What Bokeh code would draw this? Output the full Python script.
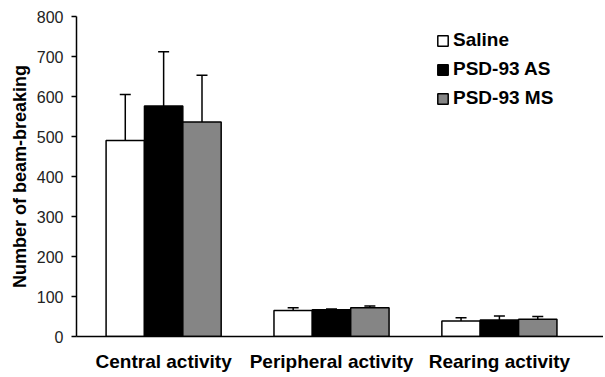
from bokeh.plotting import figure
from bokeh.models import (ColumnDataSource, Whisker, TeeHead, FixedTicker, Range1d,
                          Legend, LegendItem)
from bokeh.embed import file_html
from bokeh.resources import INLINE

categories = ["Central activity", "Peripheral activity", "Rearing activity"]
groups = ["Saline", "PSD-93 AS", "PSD-93 MS"]
saline = [490, 65, 39]
saline_err = [115, 7, 8]
psd_as = [576, 67, 41]
psd_as_err = [136, 2, 10]
psd_ms = [536, 72, 43]
psd_ms_err = [117, 4, 7]
y_ticks = [0, 100, 200, 300, 400, 500, 600, 700, 800]

colors = ["#ffffff", "#000000", "#858585"]
means = [saline, psd_as, psd_ms]
errs = [saline_err, psd_as_err, psd_ms_err]

FONT = "Liberation Sans"
bar_w = 0.2285

p = figure(width=603, height=374, output_backend="svg", toolbar_location=None,
           x_range=Range1d(-0.519, 2.62), y_range=Range1d(0, 800),
           min_border_left=76, min_border_right=0, min_border_top=16, min_border_bottom=38)
p.outline_line_color = None
p.grid.grid_line_color = None
p.background_fill_color = "white"

renderers = []
for gi, (name, m, e, c) in enumerate(zip(groups, means, errs, colors)):
    xs = [i + (gi - 1) * bar_w for i in range(len(categories))]
    src = ColumnDataSource(dict(x=xs, top=m, upper=[a + b for a, b in zip(m, e)]))
    w = Whisker(source=src, base="x", lower="top", upper="upper",
                line_color="black", line_width=1.5,
                upper_head=TeeHead(size=11, line_color="black", line_width=1.5),
                lower_head=None, level="underlay")
    p.add_layout(w)
    r = p.vbar(x="x", top="top", width=bar_w, source=src, fill_color=c,
               line_color="black", line_width=1.5)
    renderers.append((name, r))

legend = Legend(items=[LegendItem(label=n, renderers=[r]) for n, r in renderers],
                location=(360, 227), orientation="vertical",
                label_text_font=FONT, label_text_font_style="bold",
                label_text_font_size="19px", label_text_color="black",
                glyph_width=13, glyph_height=13, label_standoff=4,
                label_height=20, spacing=7, padding=0, margin=0,
                border_line_color=None, background_fill_alpha=0)
p.add_layout(legend, "center")

# x axis
p.xaxis.ticker = FixedTicker(ticks=list(range(len(categories))))
p.xaxis.major_label_overrides = {i: c for i, c in enumerate(categories)}
p.xaxis.major_tick_out = 0
p.xaxis.major_tick_in = 0
p.xaxis.minor_tick_line_color = None
p.xaxis.axis_line_color = "black"
p.xaxis.axis_line_width = 1.5
p.xaxis.major_label_text_font = FONT
p.xaxis.major_label_text_font_style = "bold"
p.xaxis.major_label_text_font_size = "19px"
p.xaxis.major_label_text_color = "black"
p.xaxis.major_label_standoff = 14

# y axis
p.yaxis.ticker = FixedTicker(ticks=y_ticks)
p.yaxis.major_tick_out = 5
p.yaxis.major_tick_in = 0
p.yaxis.minor_tick_line_color = None
p.yaxis.axis_line_color = "black"
p.yaxis.axis_line_width = 1.5
p.yaxis.major_tick_line_width = 1.5
p.yaxis.major_label_text_font = FONT
p.yaxis.major_label_text_font_size = "16px"
p.yaxis.major_label_text_color = "#222222"
p.yaxis.major_label_standoff = 8
p.yaxis.axis_label = "Number of beam-breaking"
p.yaxis.axis_label_text_font = FONT
p.yaxis.axis_label_text_font_style = "bold"
p.yaxis.axis_label_text_font_size = "18px"
p.yaxis.axis_label_text_color = "black"
p.yaxis.axis_label_standoff = 4

open("out.html", "w").write(file_html(p, INLINE))
